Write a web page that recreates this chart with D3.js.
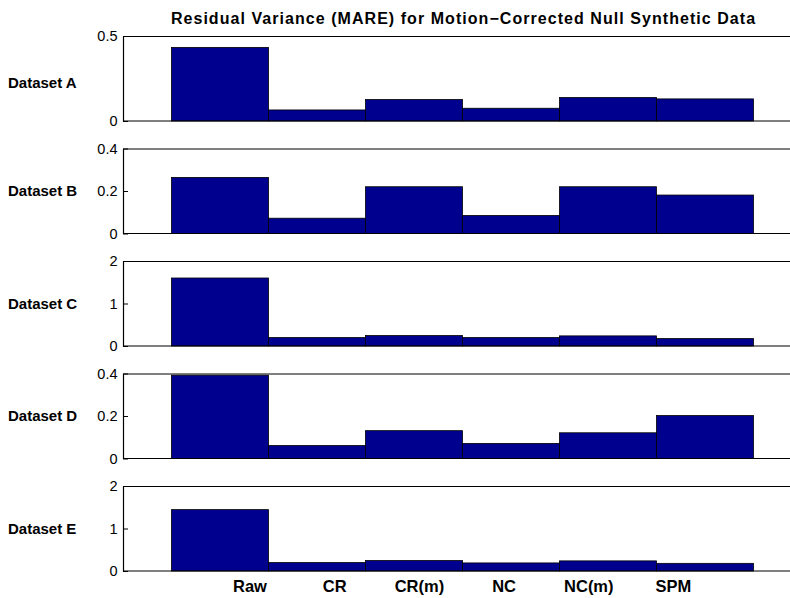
<!DOCTYPE html>
<html>
<head>
<meta charset="utf-8">
<script src="https://cdn.jsdelivr.net/npm/d3@7"></script>
<style>
  body { margin: 0; background: #fff; }
  text { font-family: Arial, "Liberation Sans", Helvetica, sans-serif; fill: #000; }
</style>
</head>
<body>
<svg id="chart" width="790" height="598"></svg>
<script>
// Methods compared (one bar each, in order)
const methods = ["Raw", "CR", "CR(m)", "NC", "NC(m)", "SPM"];
const datasets = ["Dataset A", "Dataset B", "Dataset C", "Dataset D", "Dataset E"];

// Residual variance (MARE) per method, one array per dataset
const valuesA = [0.433, 0.065, 0.126, 0.075, 0.138, 0.130];
const valuesB = [0.264, 0.072, 0.220, 0.085, 0.220, 0.181];
const valuesC = [1.60, 0.198, 0.246, 0.198, 0.238, 0.175];
const valuesD = [0.392, 0.061, 0.131, 0.071, 0.121, 0.202];
const valuesE = [1.444, 0.198, 0.246, 0.190, 0.238, 0.180];

// Y-axis limits and tick labels per panel
const yLimits = [0.5, 0.4, 2, 0.4, 2];
const yTicksA = [0, 0.5];
const yTicksB = [0, 0.2, 0.4];
const yTicksC = [0, 1, 2];
const yTicksD = [0, 0.2, 0.4];
const yTicksE = [0, 1, 2];

const title = "Residual Variance (MARE) for Motion\u2212Corrected Null Synthetic Data";

const series = [valuesA, valuesB, valuesC, valuesD, valuesE];
const tickSets = [yTicksA, yTicksB, yTicksC, yTicksD, yTicksE];

const svg = d3.select("#chart");
const W = 790;

// Layout
const axLeft = 123, axRight = 802;
const panelTop0 = 36, panelStep = 112.5, panelH = 85;
const barFill = "#00008F";

// Shared horizontal scale: bars sit between integer edges 1..7
const x = d3.scaleLinear().domain([0.5, 7.5]).range([axLeft, axRight]);

// Category label positions along the bottom
const xLabel = d3.scalePoint().domain(methods).range([250, 673.5]);

// Title
svg.append("text")
  .attr("x", (axLeft + axRight) / 2 + 1)
  .attr("y", 24)
  .attr("text-anchor", "middle")
  .style("font-size", "16px")
  .style("letter-spacing", "1.05px")
  .style("font-weight", "bold")
  .text(title);

datasets.forEach((name, i) => {
  const top = panelTop0 + i * panelStep;
  const bottom = top + panelH;
  const y = d3.scaleLinear().domain([0, yLimits[i]]).range([bottom, top]);
  const g = svg.append("g");

  // Bars (edge-aligned, each spanning one unit)
  g.selectAll("rect.bar")
    .data(series[i])
    .join("rect")
    .attr("class", "bar")
    .attr("x", (d, j) => x(j + 1))
    .attr("width", (d, j) => x(j + 2) - x(j + 1))
    .attr("y", d => y(d))
    .attr("height", d => bottom - y(d))
    .attr("fill", barFill)
    .attr("stroke", "#000")
    .attr("stroke-width", 0.8);

  // Top and bottom box lines
  g.append("line")
    .attr("x1", axLeft).attr("x2", W)
    .attr("y1", top + 0.5).attr("y2", top + 0.5)
    .attr("stroke", "#000").attr("stroke-width", 1.2);
  g.append("line")
    .attr("x1", axLeft).attr("x2", W)
    .attr("y1", bottom).attr("y2", bottom)
    .attr("stroke", "#000").attr("stroke-width", 1.2);

  // Left axis with inward ticks
  const axis = d3.axisLeft(y)
    .tickValues(tickSets[i])
    .tickFormat(d => String(d))
    .tickSizeInner(-5)
    .tickSizeOuter(0)
    .tickPadding(5.5);
  const ag = g.append("g")
    .attr("transform", `translate(${axLeft},0)`)
    .call(axis);
  ag.select(".domain").attr("stroke", "#000").attr("stroke-width", 1.2);
  ag.selectAll(".tick line").attr("stroke", "#000");
  ag.selectAll(".tick text")
    .style("font-size", "14.5px")
    .style("font-family", "Arial, 'Liberation Sans', Helvetica, sans-serif")
    .attr("fill", "#000");

  // Row label
  g.append("text")
    .attr("x", 8)
    .attr("y", (top + bottom) / 2 + (i === 0 ? 4 : 0))
    .attr("dy", "0.35em")
    .style("font-size", "15px")
    .style("font-weight", "bold")
    .text(name);
});

// Method labels under the last panel
svg.append("g")
  .selectAll("text")
  .data(methods)
  .join("text")
  .attr("x", d => xLabel(d))
  .attr("y", 592)
  .attr("text-anchor", "middle")
  .style("font-size", "16.5px")
  .style("font-weight", "bold")
  .text(d => d);
</script>
</body>
</html>
